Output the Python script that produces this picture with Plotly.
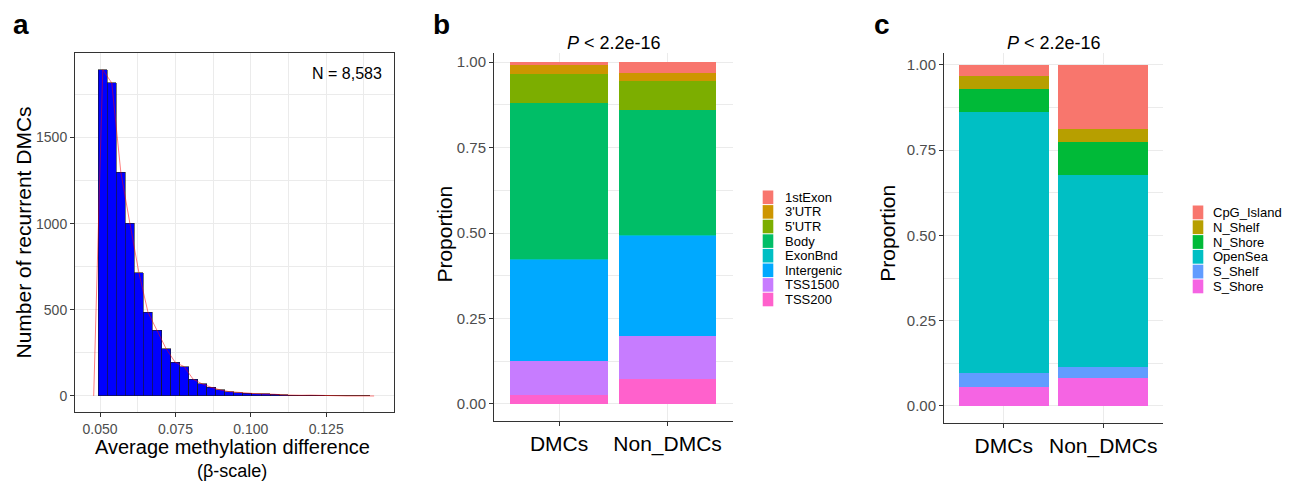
import numpy as np
import plotly.graph_objects as go

# ---------------- data ----------------
# Panel a: histogram of average methylation difference (30 bins, width 0.003)
hist_counts = [1893, 1816, 1298, 1002, 715, 486, 380, 275, 196, 170,
               97, 70, 50, 35, 25, 19, 17, 13, 13, 10,
               6, 4, 4, 5, 3, 2, 0, 0, 0, 1]
bin_first_center = 0.0509
bin_width = 0.003
n_label = "N = 8,583"
a_xticks = [0.050, 0.075, 0.100, 0.125]
a_yticks = [0, 500, 1000, 1500]

groups = ["DMCs", "Non_DMCs"]

# Panel b: gene region proportions
gene_regions = ["1stExon", "3'UTR", "5'UTR", "Body", "ExonBnd", "Intergenic", "TSS1500", "TSS200"]
gene_colors = ["#F8766D", "#CD9600", "#7CAE00", "#00BE67", "#00BFC4", "#00A9FF", "#C77CFF", "#FF61CC"]
gene_dmcs = [0.007, 0.026, 0.087, 0.456, 0.001, 0.296, 0.101, 0.026]
gene_non = [0.031, 0.024, 0.085, 0.367, 0.001, 0.293, 0.125, 0.074]

# Panel c: CpG island context proportions
cpg_regions = ["CpG_Island", "N_Shelf", "N_Shore", "OpenSea", "S_Shelf", "S_Shore"]
cpg_colors = ["#F8766D", "#B79F00", "#00BA38", "#00BFC4", "#619CFF", "#F564E3"]
cpg_dmcs = [0.032, 0.039, 0.066, 0.767, 0.040, 0.056]
cpg_non = [0.188, 0.037, 0.098, 0.562, 0.032, 0.083]

prop_ticks = [0.0, 0.25, 0.5, 0.75, 1.0]

# ---------------- layout helpers ----------------
W, H = 1293, 482
FONT = "Liberation Sans, Arial, sans-serif"
GRID = "#EBEBEB"
AXC = "#333333"
TICKC = "#4D4D4D"


def px(x):
    return x / W


def py(y):
    return 1 - y / H


fig = go.Figure()

# ---------------- panel a ----------------
centers = bin_first_center + bin_width * np.arange(len(hist_counts))
fig.add_trace(go.Bar(
    x=centers, y=hist_counts, width=bin_width,
    marker=dict(color="#0000FF", line=dict(color="#1a1a1a", width=0.6)),
    xaxis="x", yaxis="y", showlegend=False))
poly_x = np.concatenate([[centers[0] - bin_width], centers, [centers[-1] + bin_width]])
poly_y = [0] + list(hist_counts) + [0]
fig.add_trace(go.Scatter(
    x=poly_x, y=poly_y, mode="lines",
    line=dict(color="rgba(255,0,0,0.5)", width=1),
    xaxis="x", yaxis="y", showlegend=False))

# ---------------- panel b ----------------
for name, col, d, n in reversed(list(zip(gene_regions, gene_colors, gene_dmcs, gene_non))):
    fig.add_trace(go.Bar(
        x=groups, y=[d, n], name=name, width=0.9,
        marker=dict(color=col, line=dict(width=0)),
        xaxis="x2", yaxis="y2", showlegend=False))

# ---------------- panel c ----------------
for name, col, d, n in reversed(list(zip(cpg_regions, cpg_colors, cpg_dmcs, cpg_non))):
    fig.add_trace(go.Bar(
        x=groups, y=[d, n], name=name, width=0.9,
        marker=dict(color=col, line=dict(width=0)),
        xaxis="x3", yaxis="y3", showlegend=False))


def base_axis(**kw):
    d = dict(zeroline=False, showgrid=True, gridcolor=GRID, gridwidth=1,
             showline=True, linecolor=AXC, linewidth=1,
             ticks="outside", ticklen=4, tickcolor=AXC, tickwidth=1,
             tickfont=dict(family=FONT, size=15, color=TICKC))
    d.update(kw)
    return d


layout = dict(
    width=W, height=H,
    margin=dict(l=0, r=0, t=0, b=0),
    paper_bgcolor="white", plot_bgcolor="white",
    barmode="stack", showlegend=False,
    font=dict(family=FONT, color="black"),
    xaxis=base_axis(domain=[px(75), px(394)], range=[0.0417, 0.1475], anchor="y",
                    tickvals=a_xticks, tickformat=".3f", mirror=True,
                    tickfont=dict(family=FONT, size=14, color=TICKC),
                    minor=dict(tickvals=[0.0625, 0.0875, 0.1125, 0.1375], showgrid=True,
                               gridcolor=GRID, gridwidth=0.5)),
    yaxis=base_axis(domain=[py(412), py(53)], range=[-93, 1990], anchor="x",
                    tickvals=a_yticks, mirror=True,
                    tickfont=dict(family=FONT, size=14, color=TICKC),
                    minor=dict(tickvals=[250, 750, 1250, 1750], showgrid=True,
                               gridcolor=GRID, gridwidth=0.5)),
    xaxis2=base_axis(domain=[px(494), px(732.7)], range=[-0.6, 1.6], anchor="y2",
                     type="category", tickfont=dict(family=FONT, size=21, color="black")),
    yaxis2=base_axis(domain=[py(420.7), py(53)], range=[-0.049, 1.027], anchor="x2",
                     tickvals=prop_ticks, tickformat=".2f",
                     minor=dict(tickvals=[0.125, 0.375, 0.625, 0.875], showgrid=True,
                                gridcolor=GRID, gridwidth=0.5)),
    xaxis3=base_axis(domain=[px(944), px(1163)], range=[-0.6, 1.6], anchor="y3",
                     type="category", tickfont=dict(family=FONT, size=21, color="black")),
    yaxis3=base_axis(domain=[py(422.7), py(53.3)], range=[-0.049, 1.034], anchor="x3",
                     tickvals=prop_ticks, tickformat=".2f",
                     minor=dict(tickvals=[0.125, 0.375, 0.625, 0.875], showgrid=True,
                                gridcolor=GRID, gridwidth=0.5)),
)
fig.update_layout(**layout)

annotations = []
shapes = []


def txt(text, x, y, size, xanchor="center", angle=0, color="black", bold=False):
    annotations.append(dict(
        text=f"<b>{text}</b>" if bold else text,
        x=px(x), y=py(y), xref="paper", yref="paper",
        xanchor=xanchor, yanchor="middle", showarrow=False, textangle=angle,
        borderpad=0,
        font=dict(family=FONT, size=size, color=color)))


# panel letters
txt("a", 12, 24, 28, xanchor="left", bold=True)
txt("b", 432, 24, 28, xanchor="left", bold=True)
txt("c", 873, 24, 28, xanchor="left", bold=True)

# panel a texts
txt(n_label, 383, 73, 16, xanchor="right")
txt("Average methylation difference", 232, 447, 20)
txt("(β-scale)", 232, 471, 18)
txt("Number of recurrent DMCs", 22.5, 233, 21, angle=-90)

# panel b/c texts
txt("<i>P</i> &lt; 2.2e-16", 613.5, 43, 18)
txt("<i>P</i> &lt; 2.2e-16", 1053.5, 43, 18)
txt("Proportion", 443.6, 234, 21, angle=-90)
txt("Proportion", 886.7, 233, 21, angle=-90)


def legend(names, colors, key_x, top, step, text_x, size):
    for i, (nm, col) in enumerate(zip(names, colors)):
        y0 = top + i * step
        shapes.append(dict(type="rect", xref="paper", yref="paper",
                           x0=px(key_x), x1=px(key_x + 10.6),
                           y0=py(y0 + step - 0.5), y1=py(y0 + 0.5),
                           fillcolor=col, line=dict(width=0)))
        txt(nm, text_x, y0 + step / 2, size, xanchor="left")


legend(gene_regions, gene_colors, 762.7, 190, 14.6, 784, 13)
legend(cpg_regions, cpg_colors, 1192.7, 205, 14.8, 1212, 13)

fig.update_layout(annotations=annotations, shapes=shapes)
fig.write_html("out.html", config={"displayModeBar": False},
               post_script="document.body.style.margin='0px';")
